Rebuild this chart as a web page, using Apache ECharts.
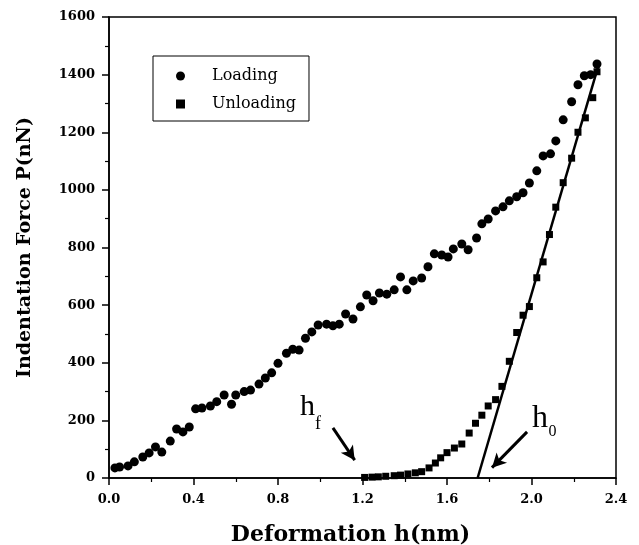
<!DOCTYPE html>
<html><head><meta charset="utf-8">
<script src="https://cdn.jsdelivr.net/npm/echarts@6/dist/echarts.min.js"></script>
<style>html,body{margin:0;padding:0;background:#fff}#c{width:639px;height:545px}</style>
</head><body><div id="c"></div>
<script>
// Loading data: [h (nm), P (nN)]
const loadingH = [0.028,0.05,0.09,0.12,0.16,0.19,0.22,0.25,0.29,0.32,0.35,0.38,0.41,0.44,0.48,0.51,0.545,0.58,0.60,0.64,0.67,0.71,0.74,0.77,0.80,0.84,0.87,0.90,0.93,0.96,0.99,1.03,1.06,1.09,1.12,1.155,1.19,1.22,1.25,1.28,1.315,1.35,1.38,1.41,1.44,1.48,1.51,1.54,1.575,1.605,1.63,1.67,1.70,1.74,1.765,1.795,1.83,1.865,1.895,1.93,1.96,1.99,2.025,2.055,2.09,2.115,2.15,2.19,2.22,2.25,2.28,2.31];
const loadingP = [35,38,42,56,73,87,108,90,128,170,160,177,240,243,250,265,288,256,288,300,305,326,347,365,398,433,447,444,485,507,531,534,528,534,569,552,594,635,615,642,638,653,698,653,684,694,733,778,774,767,795,812,792,833,882,899,927,941,962,976,990,1024,1066,1118,1125,1170,1243,1306,1365,1396,1400,1437];
// Unloading data
const unloadingH = [2.31,2.29,2.255,2.22,2.19,2.15,2.115,2.085,2.055,2.025,1.99,1.96,1.93,1.895,1.86,1.83,1.795,1.765,1.735,1.705,1.67,1.635,1.60,1.57,1.545,1.515,1.48,1.45,1.415,1.38,1.35,1.31,1.275,1.245,1.21];
const unloadingP = [1410,1320,1250,1200,1110,1025,940,845,750,695,595,565,505,405,318,272,250,218,190,156,118,104,88,70,52,35,22,18,14,10,8,6,4,3,2];
// Linear fit of the unloading curve
const fitH = [1.745, 2.315];
const fitP = [0, 1427];
// Axis ticks
const xTicks = {min: 0, max: 2.4, interval: 0.4};
const yTicks = {min: 0, max: 1600, interval: 200};
// Annotations (data coordinates)
const hfArrow = [[1.06,174],[1.163,62]];
const h0Arrow = [[1.979,160],[1.813,36]];
const hfLabelAt = [0.904, 297];
const h0LabelAt = [2.002, 260];

const zip = (a,b) => a.map((v,i)=>[v,b[i]]);
const serif = 'DejaVu Serif';
const chart = echarts.init(document.getElementById('c'), null, {renderer:'canvas'});
const axisCommon = {
  axisLine:{show:true, onZero:false, lineStyle:{color:'#000', width:1.5}},
  axisTick:{show:true, inside:false, length:7, lineStyle:{color:'#000', width:1.5}},
  minorTick:{show:true, splitNumber:2, length:4, lineStyle:{color:'#000', width:1.2}},
  splitLine:{show:false},
  axisLabel:{color:'#000', fontFamily:serif, fontWeight:'bold', fontSize:13}
};
chart.setOption({
  animation:false,
  backgroundColor:'#fff',
  grid:{left:109, right:23, top:17, bottom:67, show:true, borderColor:'#000', borderWidth:1.5,
        containLabel:false, outerBoundsMode:'none'},
  xAxis:Object.assign({}, axisCommon, {
    type:'value', min:xTicks.min, max:xTicks.max, interval:xTicks.interval,
    name:'Deformation h(nm)', nameLocation:'middle', nameGap:46,
    nameTextStyle:{color:'#000', fontFamily:serif, fontWeight:'bold', fontSize:22, padding:[0,24,0,0]},
    axisLabel:Object.assign({}, axisCommon.axisLabel, {margin:15, formatter:v=>v.toFixed(1)})
  }),
  yAxis:Object.assign({}, axisCommon, {
    type:'value', min:yTicks.min, max:yTicks.max, interval:yTicks.interval,
    name:'Indentation Force P(nN)', nameLocation:'middle', nameGap:74,
    nameTextStyle:{color:'#000', fontFamily:serif, fontWeight:'bold', fontSize:19},
    axisLabel:Object.assign({}, axisCommon.axisLabel, {margin:14, formatter:v=>String(v)})
  }),
  legend:{
    left:153, top:56, orient:'vertical',
    itemWidth:9, itemHeight:9, itemGap:12,
    padding:[12,13,9,23],
    borderColor:'#000', borderWidth:1,
    textStyle:{color:'#000', fontFamily:serif, fontSize:16, padding:[0,0,0,22]},
    data:[{name:'Loading', icon:'circle'},{name:'Unloading', icon:'rect'}]
  },
  series:[
    {name:'Loading', type:'scatter', symbol:'circle', symbolSize:9, itemStyle:{color:'#000', opacity:1}, data:zip(loadingH, loadingP), z:3},
    {name:'Unloading', type:'scatter', symbol:'rect', symbolSize:7, itemStyle:{color:'#000', opacity:1}, data:zip(unloadingH, unloadingP), z:3},
    {name:'fit', type:'line', data:zip(fitH, fitP), symbol:'none', lineStyle:{color:'#000', width:2.5}, z:2,
     markLine:{silent:true, symbol:['none','arrow'], symbolSize:[11,14], label:{show:false},
       lineStyle:{color:'#000', width:3, type:'solid'},
       data:[[{coord:hfArrow[0]},{coord:hfArrow[1]}],[{coord:h0Arrow[0]},{coord:h0Arrow[1]}]]}}
  ]
});
// annotation texts positioned from data coordinates
const pHf = chart.convertToPixel({gridIndex:0}, hfLabelAt);
const pH0 = chart.convertToPixel({gridIndex:0}, h0LabelAt);
const tf = 'Liberation Serif';
chart.setOption({graphic:[
  {type:'text', x:pHf[0], y:pHf[1], style:{text:'h', font:'30px "'+tf+'"', fill:'#000', verticalAlign:'top'}},
  {type:'text', x:pHf[0]+15, y:pHf[1]+22.5, style:{text:'f', font:'18px "'+tf+'"', fill:'#000', verticalAlign:'top'}},
  {type:'text', x:pH0[0], y:pH0[1], style:{text:'h', font:'32px "'+tf+'"', fill:'#000', verticalAlign:'top'}},
  {type:'text', x:pH0[0]+16.5, y:pH0[1]+21, style:{text:'0', font:'16px "'+tf+'"', fill:'#000', verticalAlign:'top'}}
]});
</script></body></html>
